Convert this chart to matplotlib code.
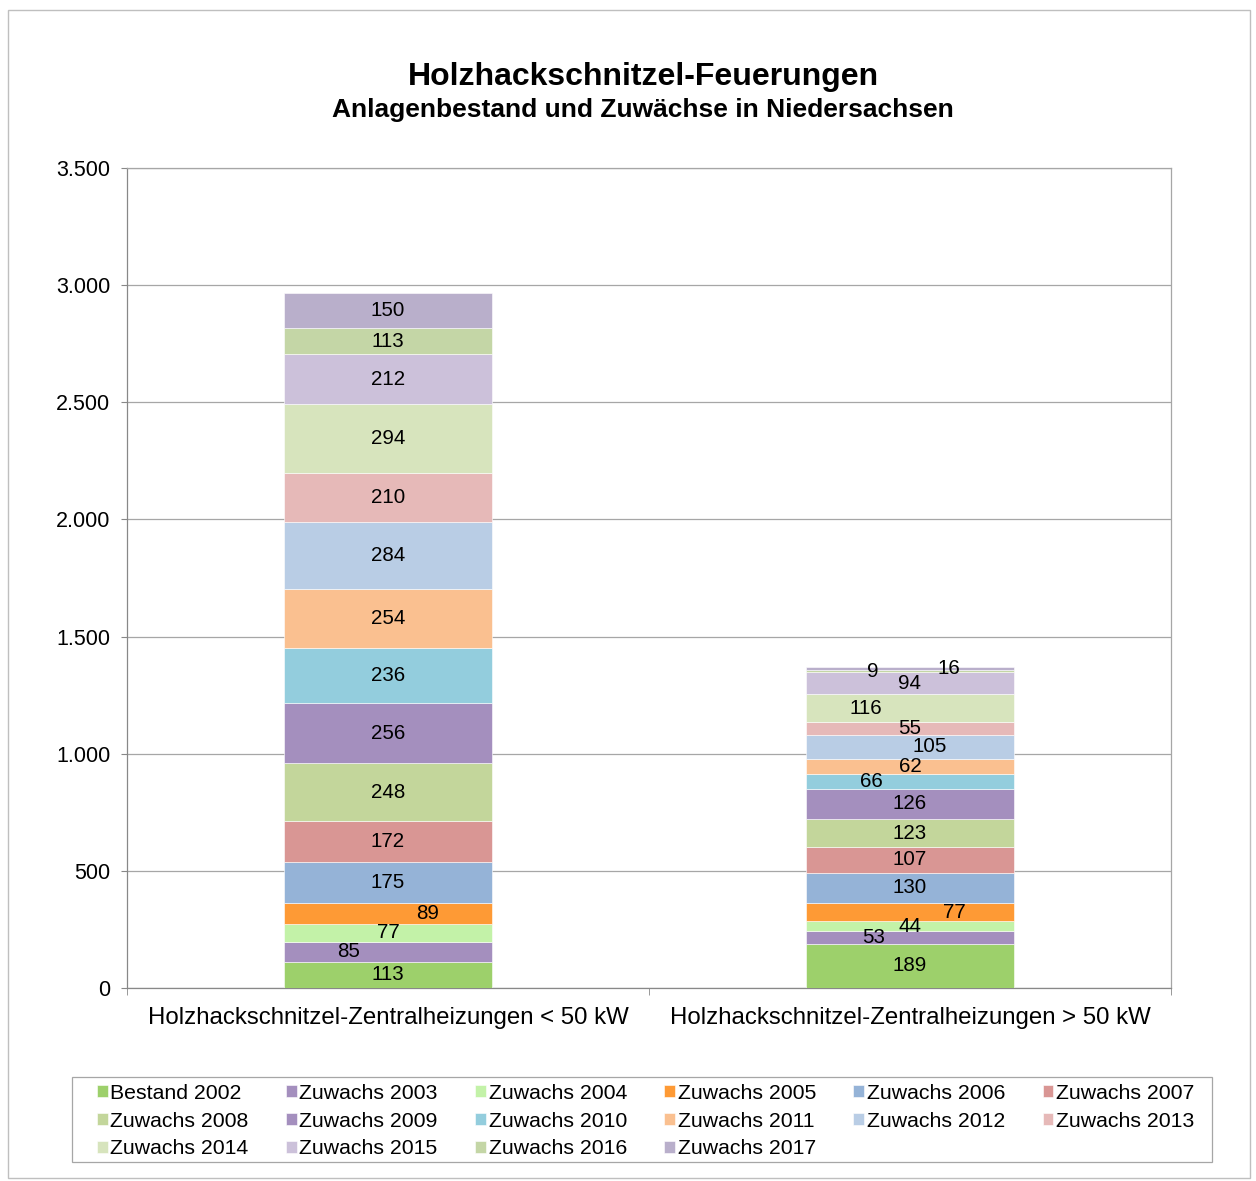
import numpy as np
import matplotlib.pyplot as plt
from matplotlib.patches import Rectangle
from matplotlib.ticker import FuncFormatter, FixedLocator

plt.rcParams['font.family'] = ['Liberation Sans', 'DejaVu Sans']

kategorien = ["Holzhackschnitzel-Zentralheizungen < 50 kW",
              "Holzhackschnitzel-Zentralheizungen > 50 kW"]
serien = ["Bestand 2002"] + ["Zuwachs %d" % j for j in range(2003, 2018)]
werte_klein = [113, 85, 77, 89, 175, 172, 248, 256, 236, 254, 284, 210, 294, 212, 113, 150]
werte_gross = [189, 53, 44, 77, 130, 107, 123, 126, 66, 62, 105, 55, 116, 94, 9, 16]
farben = ['#9dd06b', '#a48fbe', '#c3f2a8', '#fe9a35', '#95b3d7', '#d99694',
          '#c3d69b', '#a48fbe', '#93cddd', '#fac090', '#b9cde5', '#e6b9b8',
          '#d7e4bd', '#ccc1da', '#c4d6a6', '#b9afcb']

# horizontale Verschiebung der Beschriftungen (wie in Excel)
versatz_klein = {1: -0.075, 3: 0.075}
versatz_gross = {1: -0.07, 2: 0.0, 3: 0.086, 8: -0.073, 10: 0.038,
                 12: -0.085, 14: -0.071, 15: 0.075}

fig = plt.figure(figsize=(12.56, 11.81), dpi=100)
ax = fig.add_axes([0.1011, 0.1634, 0.8312, 0.6943])

x = np.arange(len(kategorien))
breite = 0.4
unten = np.zeros(2)
handles = []
for i, name in enumerate(serien):
    h = np.array([werte_klein[i], werte_gross[i]])
    b = ax.bar(x, h, breite, bottom=unten, color=farben[i], label=name,
               edgecolor='white', linewidth=0.4, zorder=3)
    handles.append(b)
    for k, vers in enumerate([versatz_klein, versatz_gross]):
        ax.text(x[k] + vers.get(i, 0.0), unten[k] + h[k] / 2, str(h[k]),
                ha='center', va='center', fontsize=14.8, color='black', zorder=4)
    unten = unten + h

ax.set_xlim(-0.5, 1.5)
ax.set_ylim(0, 3500)
ax.set_yticks(np.arange(0, 3501, 500))
ax.yaxis.set_major_formatter(FuncFormatter(lambda v, p: f"{v:,.0f}".replace(",", ".")))
ax.set_xticks(x)
ax.set_xticklabels(kategorien, fontsize=17.3)
ax.xaxis.set_minor_locator(FixedLocator([-0.5, 0.5, 1.5]))
ax.tick_params(axis='x', which='major', length=0, pad=13.5)
ax.tick_params(axis='x', which='minor', length=5, color='#888888')
ax.tick_params(axis='y', labelsize=15.5, length=4, color='#888888', pad=8)
ax.grid(axis='y', color='#a6a6a6', linewidth=0.9, zorder=0)
for s in ax.spines.values():
    s.set_color('#a6a6a6')
    s.set_linewidth(0.9)
ax.spines['bottom'].set_color('#888888')
ax.spines['left'].set_color('#888888')

fig.text(0.512, 0.935, "Holzhackschnitzel-Feuerungen", ha='center', va='center',
         fontsize=23, fontweight='bold')
fig.text(0.512, 0.907, "Anlagenbestand und Zuwächse in Niedersachsen", ha='center',
         va='center', fontsize=19, fontweight='bold')

# Legende: Reihenfolge zeilenweise wie im Original
reihen = [[0, 6, 12], [1, 7, 13], [2, 8, 14], [3, 9, 15], [4, 10], [5, 11]]
reihenfolge = [i for spalte in reihen for i in spalte]
leg = fig.legend([handles[i] for i in reihenfolge], [serien[i] for i in reihenfolge],
                 ncol=6, loc='upper left', bbox_to_anchor=(0.0772, 0.0822),
                 fontsize=15.3, frameon=False,
                 handlelength=0.5, handleheight=0.5, handletextpad=0.13,
                 labelspacing=0.41, borderpad=0, borderaxespad=0, columnspacing=1.76)

# Rahmen der Legende und des Diagramms
fig.patches.append(Rectangle((72 / 1256, 1 - 1162 / 1181), 1140 / 1256, 85 / 1181,
                             transform=fig.transFigure, fill=False,
                             edgecolor='#a6a6a6', linewidth=0.9))
fig.patches.append(Rectangle((0.0064, 0.0025), 0.9888, 0.989, transform=fig.transFigure,
                             fill=False, edgecolor='#bfbfbf', linewidth=1))

fig.savefig("out.png", dpi=100)
